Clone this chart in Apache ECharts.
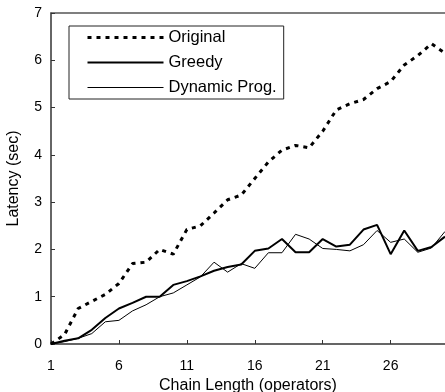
<!DOCTYPE html>
<html>
<head>
<meta charset="utf-8">
<script src="https://cdn.jsdelivr.net/npm/echarts@6/dist/echarts.min.js"></script>
<style>
  html, body { margin: 0; padding: 0; background: #fff; }
  #chart { width: 445px; height: 392px; }
</style>
</head>
<body>
<div id="chart"></div>
<script>
// Chain length (number of operators)
const chainLength = [1, 2, 3, 4, 5, 6, 7, 8, 9, 10, 11, 12, 13, 14, 15,
  16, 17, 18, 19, 20, 21, 22, 23, 24, 25, 26, 27, 28, 29, 30];

// Latency in seconds for each placement strategy
const original = [0, 0.2, 0.75, 0.9, 1.05, 1.28, 1.7, 1.73, 2.0, 1.9, 2.42, 2.5, 2.77, 3.05, 3.15,
  3.5, 3.85, 4.1, 4.2, 4.15, 4.5, 4.95, 5.08, 5.17, 5.4, 5.55, 5.9, 6.1, 6.35, 6.15];
const greedy = [0, 0.07, 0.12, 0.3, 0.55, 0.75, 0.87, 1.0, 1.0, 1.25, 1.33, 1.43, 1.55, 1.63, 1.68,
  1.97, 2.02, 2.22, 1.94, 1.94, 2.22, 2.06, 2.1, 2.42, 2.52, 1.9, 2.4, 1.97, 2.05, 2.27];
const dynamicProg = [0, 0.05, 0.12, 0.22, 0.47, 0.5, 0.7, 0.83, 1.0, 1.08, 1.25, 1.42, 1.73, 1.52, 1.7,
  1.6, 1.93, 1.93, 2.32, 2.22, 2.02, 2.0, 1.97, 2.1, 2.4, 2.15, 2.22, 1.94, 2.03, 2.38];

const xTicks = [1, 6, 11, 16, 21, 26];

const pairs = (ys) => chainLength.map((x, i) => [x, ys[i]]);
const font = 'Liberation Sans, Arial, sans-serif';

const styles = {
  'Original': { color: '#000', width: 3, type: [4, 5] },
  'Greedy': { color: '#000', width: 2, type: 'solid' },
  'Dynamic Prog.': { color: '#000', width: 1, type: 'solid' }
};

const chart = echarts.init(document.getElementById('chart'), null, { renderer: 'canvas' });
chart.setOption({
  animation: false,
  backgroundColor: '#fff',
  grid: { left: 51, right: 0, top: 13, bottom: 48, outerBoundsMode: 'none', containLabel: false },
  legend: {
    orient: 'vertical',
    left: 69, top: 26,
    padding: [3, 7, 3, 17],
    itemGap: 8,
    itemWidth: 76,
    itemHeight: 14,
    backgroundColor: '#fff',
    borderColor: '#222',
    borderWidth: 1,
    borderRadius: 0,
    itemStyle: { opacity: 0 },
    textStyle: { fontFamily: font, fontSize: 16.5, color: '#000' },
    data: Object.keys(styles).map((name) => ({ name, lineStyle: styles[name] }))
  },
  xAxis: [{
    type: 'value',
    min: 1, max: 30,
    interval: 5,
    name: 'Chain Length (operators)',
    nameLocation: 'middle',
    nameGap: 26,
    nameTextStyle: { fontFamily: font, fontSize: 16, color: '#000' },
    axisLine: { lineStyle: { color: '#333', width: 1.5 } },
    axisTick: { inside: true, length: 4, lineStyle: { color: '#333' } },
    axisLabel: {
      fontFamily: font, fontSize: 14, color: '#000', margin: 15,
      customValues: xTicks
    },
    splitLine: { show: false }
  }, {
    type: 'value',
    position: 'top',
    min: 1, max: 30,
    axisLine: { lineStyle: { color: '#555', width: 1.5 } },
    axisTick: { show: false },
    axisLabel: { show: false },
    splitLine: { show: false }
  }],
  yAxis: {
    type: 'value',
    min: 0, max: 7, interval: 1,
    name: 'Latency (sec)',
    nameLocation: 'middle',
    nameGap: 29,
    nameTextStyle: { fontFamily: font, fontSize: 16, color: '#000' },
    axisLine: { show: true, lineStyle: { color: '#333', width: 1.5 } },
    axisTick: { show: true, inside: true, length: 4, lineStyle: { color: '#333' } },
    axisLabel: { fontFamily: font, fontSize: 14, color: '#000', margin: 9 },
    splitLine: { show: false }
  },
  series: [{
    name: 'Original',
    type: 'line',
    data: pairs(original),
    symbol: 'none',
    lineStyle: styles['Original'],
    itemStyle: { color: '#000' }
  }, {
    name: 'Greedy',
    type: 'line',
    data: pairs(greedy),
    symbol: 'none',
    lineStyle: styles['Greedy'],
    itemStyle: { color: '#000' }
  }, {
    name: 'Dynamic Prog.',
    type: 'line',
    data: pairs(dynamicProg),
    symbol: 'none',
    lineStyle: styles['Dynamic Prog.'],
    itemStyle: { color: '#000' }
  }]
});
</script>
</body>
</html>
